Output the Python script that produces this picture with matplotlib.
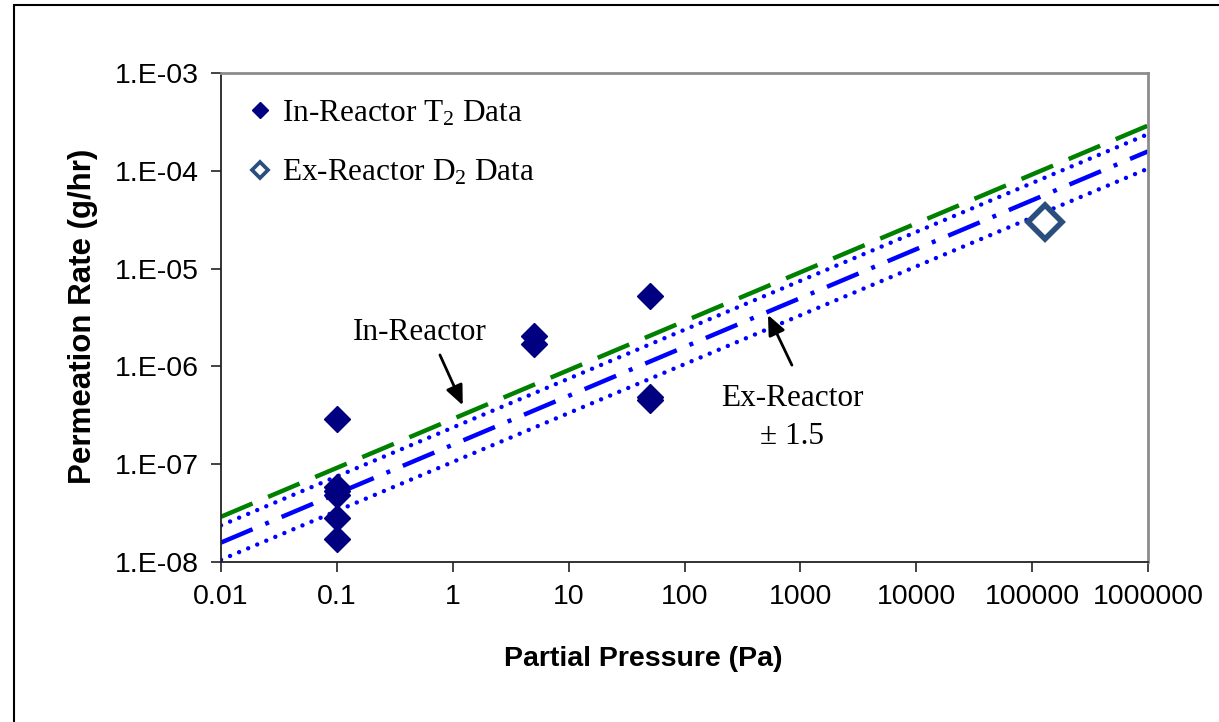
import matplotlib
matplotlib.use("Agg")
import matplotlib.pyplot as plt
from matplotlib.lines import Line2D
from matplotlib.patches import Rectangle
from matplotlib.ticker import FixedLocator, FixedFormatter, NullLocator

plt.rcParams['mathtext.fontset'] = 'custom'
plt.rcParams['mathtext.rm'] = 'Liberation Serif'
plt.rcParams['mathtext.it'] = 'Liberation Serif:italic'
plt.rcParams['mathtext.default'] = 'rm'

# ---------------- data ----------------
t2_pressure = [0.1, 0.1, 0.1, 0.1, 0.1, 0.1, 5, 5, 50, 50, 50]
t2_rate = [2.9e-7, 5.9e-8, 5.3e-8, 4.8e-8, 2.8e-8, 1.7e-8,
           2.05e-6, 1.7e-6, 5.2e-6, 4.9e-7, 4.5e-7]
d2_pressure = [1.3e5]
d2_rate = [3.0e-5]

line_pressure = [0.01, 1e6]
in_reactor_rate = [2.9e-8, 2.9e-4]
ex_reactor_rate = [1.58e-8, 1.58e-4]
ex_factor = 1.5
ex_upper_rate = [v * ex_factor for v in ex_reactor_rate]
ex_lower_rate = [v / ex_factor for v in ex_reactor_rate]

x_ticks = [0.01, 0.1, 1, 10, 100, 1000, 10000, 100000, 1000000]
x_tick_labels = ['0.01', '0.1', '1', '10', '100', '1000', '10000', '100000', '1000000']
y_ticks = [1e-8, 1e-7, 1e-6, 1e-5, 1e-4, 1e-3]
y_tick_labels = ['1.E-08', '1.E-07', '1.E-06', '1.E-05', '1.E-04', '1.E-03']

# ---------------- figure ----------------
W, H = 1219, 722
fig = plt.figure(figsize=(W / 100, H / 100), dpi=100)
ax = fig.add_axes([221 / W, 1 - 562 / H, (1148 - 221) / W, (562 - 73) / H])
ax.set_xscale('log')
ax.set_yscale('log')
ax.set_xlim(0.01, 1e6)
ax.set_ylim(1e-8, 1e-3)

lw_dash = 3.2
ax.plot(line_pressure, in_reactor_rate, color='#008000', lw=lw_dash,
        dashes=(7.7, 3.8), solid_capstyle='butt', dash_capstyle='butt', zorder=2)
ax.plot(line_pressure, ex_reactor_rate, color='#0000FF', lw=lw_dash,
        dashes=(7.7, 3.1, 0.9, 3.1), dash_capstyle='butt', zorder=2)
ax.plot(line_pressure, ex_upper_rate, color='#0000FF', lw=3.2,
        dashes=(0.01, 2.2), dash_capstyle='round', zorder=2)
ax.plot(line_pressure, ex_lower_rate, color='#0000FF', lw=3.2,
        dashes=(0.01, 2.2), dash_capstyle='round', zorder=2)

ax.plot(t2_pressure, t2_rate, linestyle='none', marker='D', markersize=13,
        color='#000080', markeredgecolor='#000080', zorder=3)
ax.plot(d2_pressure, d2_rate, linestyle='none', marker='D', markersize=17.5,
        markerfacecolor='white', markeredgecolor='#2A4F7E', markeredgewidth=4, zorder=3)

# axes style
for s in ['left', 'bottom']:
    ax.spines[s].set_color('#222222')
    ax.spines[s].set_linewidth(1.3)
for s in ['top', 'right']:
    ax.spines[s].set_color('#8c8c8c')
    ax.spines[s].set_linewidth(2.0)

ax.xaxis.set_major_locator(FixedLocator(x_ticks))
ax.xaxis.set_major_formatter(FixedFormatter(x_tick_labels))
ax.yaxis.set_major_locator(FixedLocator(y_ticks))
ax.yaxis.set_major_formatter(FixedFormatter(y_tick_labels))
ax.xaxis.set_minor_locator(NullLocator())
ax.yaxis.set_minor_locator(NullLocator())
ax.tick_params(axis='both', which='major', direction='out', length=7, width=1.2,
               color='#222222', labelsize=20.5, pad=9)
for lab in ax.get_xticklabels() + ax.get_yticklabels():
    lab.set_family('Liberation Sans')

# legend
h1 = Line2D([], [], linestyle='none', marker='D', markersize=8.5,
            color='#000080', markeredgecolor='#000080')
h2 = Line2D([], [], linestyle='none', marker='D', markersize=8.5,
            markerfacecolor='white', markeredgecolor='#2A4F7E', markeredgewidth=2.7)
leg = ax.legend([h1, h2], [r'In-Reactor T$_2$ Data', r'Ex-Reactor D$_2$ Data'],
                loc='upper left', bbox_to_anchor=(0.005, 0.992), frameon=False,
                prop={'family': 'Liberation Serif', 'size': 22.5},
                handlelength=0.8, handletextpad=0.3, labelspacing=0.95,
                borderaxespad=0.3)

# annotations
serif = {'family': 'Liberation Serif', 'size': 22.5}
ax.text(0.52, 2.2e-6, 'In-Reactor', ha='center', va='center', fontdict=serif)
arrow = dict(arrowstyle='-|>,head_length=0.8,head_width=0.35', mutation_scale=15,
             lw=2, color='black', shrinkA=0, shrinkB=0)
ax.annotate('', xy=(1.22, 4.0e-7), xytext=(0.775, 1.31e-6), arrowprops=arrow)
ax.text(845, 3.0e-7, 'Ex-Reactor\n\u00b1 1.5', ha='center', va='center',
        multialignment='center', linespacing=1.38, fontdict=serif)
ax.annotate('', xy=(525, 3.36e-6), xytext=(845, 1.03e-6), arrowprops=arrow)

# axis labels
fig.text(643 / W, 1 - 659 / H, 'Partial Pressure (Pa)', ha='center', va='center',
         family='Liberation Sans', fontweight='bold', fontsize=20.5)
fig.text(83 / W, 1 - 316 / H, 'Permeation Rate (g/hr)', ha='center', va='center',
         rotation=90, family='Liberation Sans', fontweight='bold', fontsize=22.5)

# outer border
fig.patches.append(Rectangle((14 / W, -0.05), 1.05, 1 - 5 / H + 0.05,
                             transform=fig.transFigure, fill=False,
                             edgecolor='black', lw=1.5))

fig.savefig('out.png', dpi=100)
